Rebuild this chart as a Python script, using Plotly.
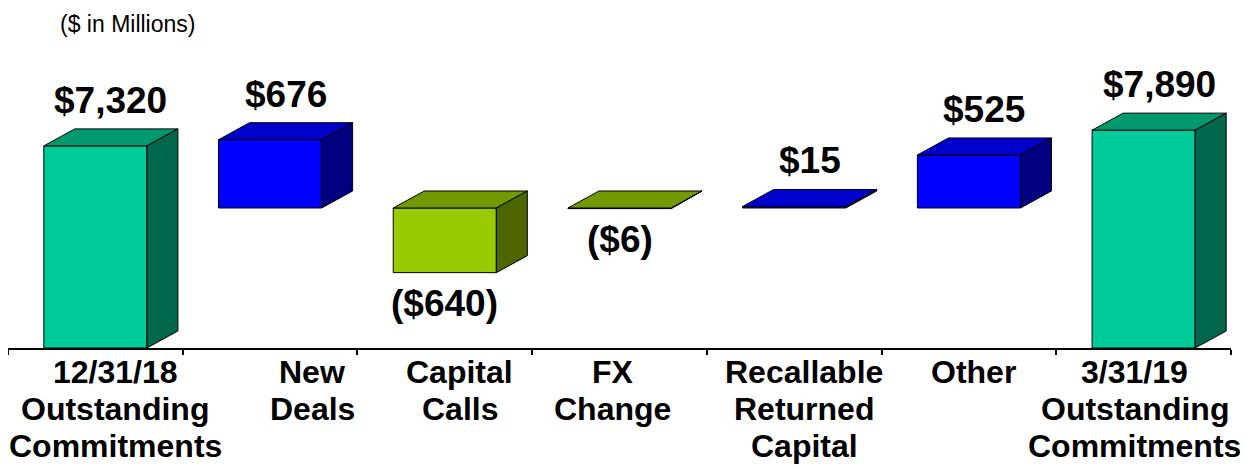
import plotly.graph_objects as go

# data ($ in millions)
categories = ["12/31/18<br>Outstanding<br>Commitments", "New<br>Deals", "Capital<br>Calls",
              "FX<br>Change", "Recallable<br>Returned<br>Capital", "Other",
              "3/31/19<br>Outstanding<br>Commitments"]
values = [7320, 676, -640, -6, 15, 525, 7890]
is_total = [True, False, False, False, False, False, True]

# look of the 3d boxes: (front, top, side)
total_colors = ("#00CC99", "#00996F", "#00664C")
up_colors = ("#0000FF", "#0000CC", "#000080")
down_colors = ("#99CC00", "#739900", "#4D6600")
# the category texts in the original are placed by hand, a bit off centre
label_nudge_px = [20, 42, 15, -7, 10, 5, -9]

FONT = "Liberation Sans, Arial"
# the page body has an 8px margin, so the figure is 8px smaller than the window
W, H = 1240, 461
margin = dict(l=0, r=17, t=52, b=121)
plot_w = W - margin["l"] - margin["r"]
plot_h = H - margin["t"] - margin["b"]

x_range = [-0.5, len(values) - 0.5]
# totals and changes are drawn on two different scales, like the original
y_total_range = [0, 10430]
y_change_range = [-1386, 1465]

bar_w = 0.59
depth_px = (31, 17)
dx = depth_px[0] * (x_range[1] - x_range[0]) / plot_w
dy_total = depth_px[1] * (y_total_range[1] - y_total_range[0]) / plot_h
dy_change = depth_px[1] * (y_change_range[1] - y_change_range[0]) / plot_h


def money(v):
    s = f"${abs(v):,}"
    return f"({s})" if v < 0 else s


fig = go.Figure()

# front faces
tot_x = [i for i, t in enumerate(is_total) if t]
tot_y = [values[i] for i in tot_x]
fig.add_trace(go.Bar(x=tot_x, y=tot_y, width=bar_w, yaxis="y",
                     marker=dict(color=total_colors[0], line=dict(color="black", width=1)),
                     hoverinfo="skip", showlegend=False))
chg_x = [i for i, t in enumerate(is_total) if not t]
chg_y = [values[i] for i in chg_x]
chg_col = [up_colors[0] if v >= 0 else down_colors[0] for v in chg_y]
fig.add_trace(go.Bar(x=chg_x, y=chg_y, base=0, width=bar_w, yaxis="y2",
                     marker=dict(color=chg_col, line=dict(color="black", width=1)),
                     hoverinfo="skip", showlegend=False))

# top and side faces, value labels
annotations = []
for i, v in enumerate(values):
    if is_total[i]:
        cols, yax, dy = total_colors, "y", dy_total
        lo, hi = 0, v
    else:
        cols = up_colors if v >= 0 else down_colors
        yax, dy = "y2", dy_change
        lo, hi = min(0, v), max(0, v)
    x0, x1 = i - bar_w / 2, i + bar_w / 2
    fig.add_trace(go.Scatter(
        x=[x0, x0 + dx, x1 + dx, x1, x0], y=[hi, hi + dy, hi + dy, hi, hi],
        yaxis=yax, mode="lines", fill="toself", fillcolor=cols[1],
        line=dict(color="black", width=1), hoverinfo="skip", showlegend=False))
    fig.add_trace(go.Scatter(
        x=[x1, x1 + dx, x1 + dx, x1, x1], y=[lo, lo + dy, hi + dy, hi, lo],
        yaxis=yax, mode="lines", fill="toself", fillcolor=cols[2],
        line=dict(color="black", width=1), hoverinfo="skip", showlegend=False))

    lab = dict(xref="x", yref=yax, text=money(v), showarrow=False,
               font=dict(family=FONT, size=37, color="black", weight="bold"))
    if v >= 0:
        lab.update(x=i + dx / 2, y=hi, yanchor="bottom", yshift=depth_px[1] + 6)
    else:
        lab.update(x=i, y=lo, yanchor="top", yshift=-8)
    annotations.append(lab)

# category labels under the axis, one line at a time
for i, cat in enumerate(categories):
    for k, line in enumerate(cat.split("<br>")):
        annotations.append(dict(
            x=i, xref="x", y=0, yref="paper", text=line, showarrow=False,
            yanchor="middle", yshift=-(24 + 37 * k), xshift=label_nudge_px[i],
            font=dict(family=FONT, size=32, color="black", weight="bold")))

annotations.append(dict(text="($ in Millions)", xref="paper", yref="paper",
                        x=(50 - margin["l"]) / plot_w, xanchor="left",
                        y=1 + (margin["t"] - 16) / plot_h, yanchor="middle", showarrow=False,
                        font=dict(family=FONT, size=23, color="black")))

fig.update_layout(
    width=W, height=H, margin=margin,
    paper_bgcolor="white", plot_bgcolor="white",
    barmode="overlay",
    annotations=annotations,
    xaxis=dict(range=x_range, tickvals=list(range(len(values))), showticklabels=False,
               ticks="", showgrid=False, zeroline=False, automargin=False,
               showline=True, linecolor="black", linewidth=1.5,
               minor=dict(tickvals=[k - 0.5 for k in range(len(values) + 1)],
                          ticks="outside", ticklen=5, tickcolor="black", tickwidth=1.5)),
    yaxis=dict(range=y_total_range, visible=False, showgrid=False, zeroline=False),
    yaxis2=dict(range=y_change_range, overlaying="y", visible=False,
                showgrid=False, zeroline=False),
)

fig.write_html("out.html")
